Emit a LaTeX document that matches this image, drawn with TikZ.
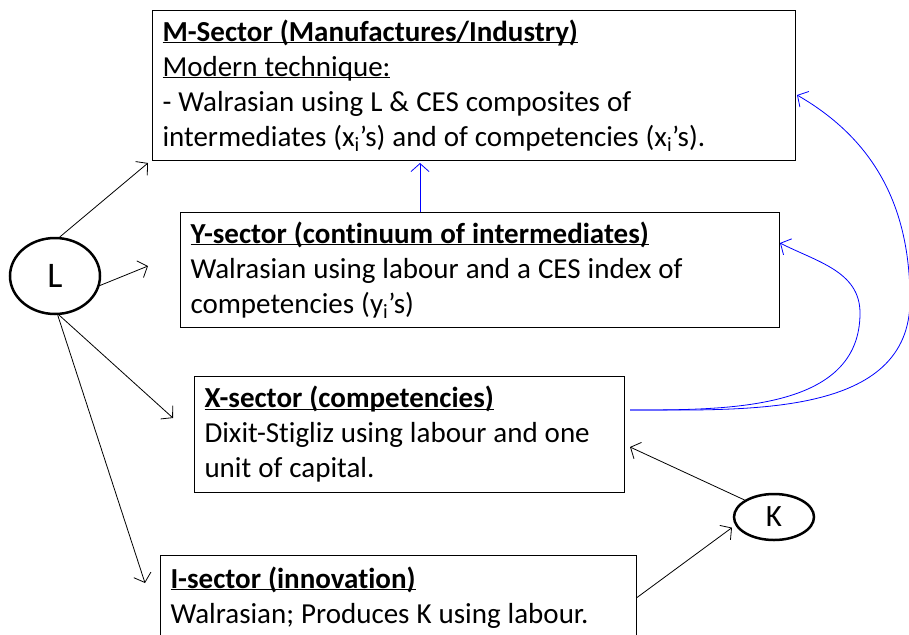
\documentclass[tikz,border=0pt]{standalone}
\usepackage{fontspec}
\setmainfont{Carlito}[Ligatures=NoCommon]
\usepackage{tikz}
\usetikzlibrary{arrows.meta,shapes.geometric}

\newcommand\ulhead[1]{\underline{\raisebox{0pt}[\height][0pt]{#1}}}
\newcommand\tightspace{\spaceskip=7pt plus 1pt minus 1pt\relax}

\begin{document}
\begin{tikzpicture}[x=1pt,y=1pt,
  sector/.style={draw,line width=1pt,anchor=north west,align=left,inner xsep=10pt,inner ysep=0pt,
    font=\fontsize{29}{35}\selectfont,execute at begin node=\tightspace},
  factor/.style={draw,ellipse,line width=2.5pt,inner sep=0pt},
  flow/.style={line width=0.8pt,-{Straight Barb[length=8pt,width=18pt]}},
  feed/.style={flow,blue}]

\useasboundingbox (0,0) rectangle (909,-634);

\node[sector,text width=623pt,minimum height=150pt] (M) at (152,-10)
  {\textbf{\ulhead{M-Sector (Manufactures/Industry)}}\\
   \ulhead{Modern technique:}\\
   - Walrasian using L \& CES composites of\\
   intermediates (x\textsubscript{i}’s) and of competencies (x\textsubscript{i}’s).};
\node[sector,text width=579pt,minimum height=115pt] (Y) at (180,-212)
  {\textbf{\ulhead{Y-sector (continuum of intermediates)}}\\
   Walrasian using labour and a CES index of\\
   competencies (y\textsubscript{i}’s)};
\node[sector,text width=410pt,minimum height=116pt] (X) at (194,-376)
  {\textbf{\ulhead{X-sector (competencies)}}\\
   Dixit-Stigliz using labour and one\\
   unit of capital.};
\node[sector,text width=456pt,minimum height=84pt] (I) at (160,-555)
  {\textbf{\ulhead{I-sector (innovation)}}\\
   Walrasian; Produces K using labour.};

\node[factor,minimum width=90pt,minimum height=76pt,font=\fontsize{36}{40}\selectfont] (L) at (55,-276) {L};
\node[factor,minimum width=80pt,minimum height=46pt,font=\fontsize{31}{36}\selectfont] (K) at (774,-517) {K};

% arrow tips that stop short of the boxes
\coordinate (toM) at (148,-163);
\coordinate (toY) at (148,-266);
\coordinate (toX) at (173,-418);
\coordinate (toI) at (145,-583);
\coordinate (kX) at (630,-447);
\coordinate (yTop) at (420,-212);
\coordinate (mBot) at (420,-163);
\coordinate (xOut) at (630,-410);
\coordinate (mIn) at (797,-95);
\coordinate (yIn) at (780,-243);

\draw[flow] (L.83) -- (toM);
\draw[flow] (L.-12) -- (toY);
\draw[flow] (L.-84) -- (toX);
\draw[flow] (L.-86) -- (toI);

\draw[flow] (K.150) -- (kX);
\draw[flow,shorten >=4pt] (I.east) -- (K.192);

\draw[feed] (yTop) -- (mBot);
\draw[feed] (xOut) to[out=0,in=-90] (910,-300) to[out=90,in=-30] (mIn);
\draw[feed] (xOut) to[out=0,in=-90] (860,-313) to[out=90,in=-27] (yIn);
\end{tikzpicture}
\end{document}
